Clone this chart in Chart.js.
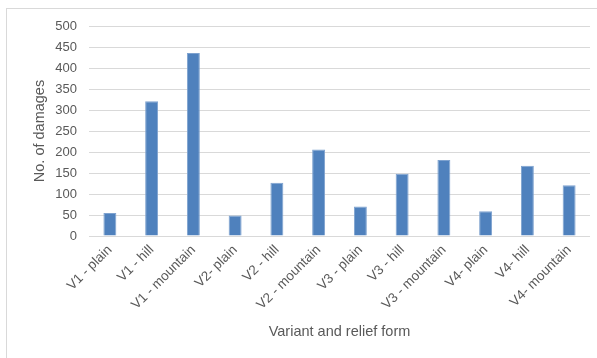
<!DOCTYPE html>
<html>
<head>
<meta charset="utf-8">
<script src="https://cdn.jsdelivr.net/npm/chart.js@4/dist/chart.umd.min.js"></script>
<style>
  html, body { margin: 0; padding: 0; background: #ffffff; }
  #wrap { position: relative; width: 597px; height: 358px; overflow: hidden; }
  #frame { position: absolute; left: 6px; top: 8px; width: 620px; height: 380px; border: 1px solid #d9d9d9; box-sizing: border-box; }
  canvas { position: absolute; left: 0; top: 0; }
</style>
</head>
<body>
<div id="wrap">
  <div id="frame"></div>
  <canvas id="chart" width="597" height="358"></canvas>
</div>
<script>
// Damage counts by variant and relief form
const categories = [
  'V1 - plain', 'V1 - hill', 'V1 - mountain',
  'V2- plain', 'V2 - hill', 'V2 - mountain',
  'V3 - plain', 'V3 - hill', 'V3 - mountain',
  'V4- plain', 'V4- hill', 'V4- mountain'
];
const damages = [55, 321, 436, 49, 127, 206, 70, 148, 181, 59, 167, 121];
const yTicks = [0, 50, 100, 150, 200, 250, 300, 350, 400, 450, 500];

const textColor = '#595959';
const gridColor = '#d9d9d9';
const family = "'Liberation Sans', Arial, sans-serif";

new Chart(document.getElementById('chart'), {
  type: 'bar',
  data: {
    labels: categories,
    datasets: [{
      data: damages,
      backgroundColor: '#4f81bd',
      borderColor: '#7ea2cf',
      borderWidth: 1,
      barPercentage: 0.31,
      categoryPercentage: 1
    }]
  },
  options: {
    responsive: false,
    animation: false,
    devicePixelRatio: 1,
    layout: { padding: { top: 26, right: 7, left: 0, bottom: 0 } },
    plugins: { legend: { display: false }, tooltip: { enabled: false } },
    scales: {
      x: {
        grid: { display: false, drawTicks: false },
        border: { display: false },
        ticks: {
          color: textColor,
          font: { family, size: 13.5 },
          maxRotation: 45,
          minRotation: 45,
          autoSkip: false,
          padding: 6
        },
        title: {
          display: true,
          text: 'Variant and relief form',
          color: textColor,
          font: { family, size: 14.5 },
          padding: { top: 0, bottom: 17 }
        },
        afterFit(scale) { scale.height = 122; }
      },
      y: {
        min: yTicks[0],
        max: yTicks[yTicks.length - 1],
        afterBuildTicks(scale) { scale.ticks = yTicks.map(v => ({ value: v })); },
        grid: { color: gridColor, lineWidth: 1, drawTicks: false },
        border: { display: false },
        ticks: {
          color: textColor,
          font: { family, size: 13 },
          padding: 12
        },
        title: {
          display: true,
          text: 'No. of damages',
          color: textColor,
          font: { family, size: 14.5 },
          padding: { top: 31, bottom: 0 }
        },
        afterFit(scale) { scale.width = 89; }
      }
    }
  }
});
</script>
</body>
</html>
